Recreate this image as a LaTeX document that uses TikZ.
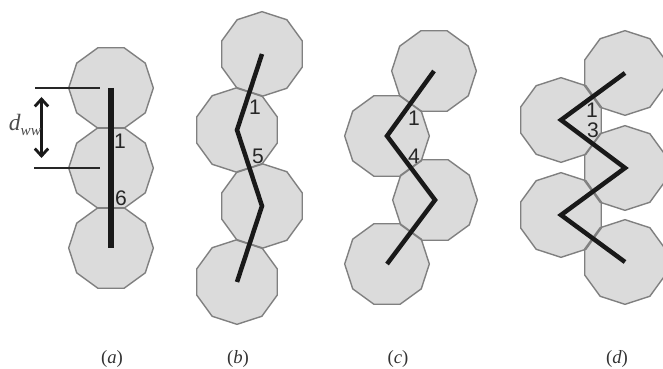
\documentclass[tikz,border=0pt]{standalone}
\usepackage{amsmath}
\usepackage{fontspec}
\setmainfont{Liberation Serif}
\setsansfont{Liberation Sans}
\usepackage{tikz}
\usetikzlibrary{positioning, shapes.geometric, arrows.meta, calc}

\begin{document}
\begin{tikzpicture}[
    x=0.03cm, y=-0.03cm,
    beadfill/.style={regular polygon, regular polygon sides=10, minimum size=2.54cm, inner sep=0pt, outer sep=0pt, fill=black!14},
    bead/.style={regular polygon, regular polygon sides=10, minimum size=2.54cm, inner sep=0pt, outer sep=0pt, draw=black!50, line width=0.42mm},
    chain/.style={line width=1.35mm, black!90, line join=miter},
    tick/.style={line width=0.65mm, black!85},
    arrow/.style={{Straight Barb[length=2.2mm,width=4mm]}-{Straight Barb[length=2.2mm,width=4mm]}, line width=0.85mm, black!90},
    num/.style={inner sep=0pt, font=\sffamily\fontsize{18}{21}\selectfont, black!85},
    panel/.style={inner sep=0pt, font=\fontsize{16}{19}\selectfont, black!80}
]
\useasboundingbox (0,0) rectangle (663,369);

% Fills first, so that the outlines show where beads overlap
\foreach \px/\py in {111/88, 111/168, 111/248, 434/71, 387/136, 435/200, 387/264}
    \node[beadfill] at (\px,\py) {};
\foreach \px/\py in {262/54, 237/130, 262/206, 237/282, 625/73, 561/120, 625/168, 561/215, 625/262}
    \node[beadfill, shape border rotate=18] at (\px,\py) {};

% Beads (a)
\node[bead] (a1) at (111,88) {};
\node[bead] (a2) at (111,168) {};
\node[bead] (a3) at (111,248) {};
% Beads (b)
\node[bead, shape border rotate=18] (b1) at (262,54) {};
\node[bead, shape border rotate=18] (b2) at (237,130) {};
\node[bead, shape border rotate=18] (b3) at (262,206) {};
\node[bead, shape border rotate=18] (b4) at (237,282) {};
% Beads (c)
\node[bead] (c1) at (434,71) {};
\node[bead] (c2) at (387,136) {};
\node[bead] (c3) at (435,200) {};
\node[bead] (c4) at (387,264) {};
% Beads (d)
\node[bead, shape border rotate=18] (d1) at (625,73) {};
\node[bead, shape border rotate=18] (d2) at (561,120) {};
\node[bead, shape border rotate=18] (d3) at (625,168) {};
\node[bead, shape border rotate=18] (d4) at (561,215) {};
\node[bead, shape border rotate=18] (d5) at (625,262) {};

% Chains
\draw[chain, line width=1.6mm] (a1.center) -- (a2.center) -- (a3.center);
\draw[chain] (b1.center) -- (b2.center) -- (b3.center) -- (b4.center);
\draw[chain] (c1.center) -- (c2.center) -- (c3.center) -- (c4.center);
\draw[chain] (d1.center) -- (d2.center) -- (d3.center) -- (d4.center) -- (d5.center);

% Spacing marks
\coordinate (topl) at (35,88);
\coordinate (topr) at (100,88);
\coordinate (botl) at (34,168);
\coordinate (botr) at (100,168);
\coordinate (up) at (41.5,97);
\coordinate (down) at (41.5,158);
\draw[tick] (topl) -- (topr);
\draw[tick] (botl) -- (botr);
\draw[arrow] (up) -- (down);
\node[inner sep=0pt, black!70] (dww) at (25,125) {{\fontsize{20}{22}\selectfont\textit{d}}\raisebox{-1.4mm}{\fontsize{13}{15}\selectfont\textit{ww}}};

% Numbers
\node[num] (an1) at (120,141) {1};
\node[num] (an6) at (121,198) {6};
\node[num] (bn1) at (255,107) {1};
\node[num] (bn5) at (258,156) {5};
\node[num] (cn1) at (414,118) {1};
\node[num] (cn4) at (414,156) {4};
\node[num] (dn1) at (592,110) {1};
\node[num] (dn3) at (593,130) {3};

% Panel labels
\node[panel] (la) at (112,359) {(\textit{a})};
\node[panel] (lb) at (238,359) {(\textit{b})};
\node[panel] (lc) at (398,359) {(\textit{c})};
\node[panel] (ld) at (617,359) {(\textit{d})};

\end{tikzpicture}
\end{document}
